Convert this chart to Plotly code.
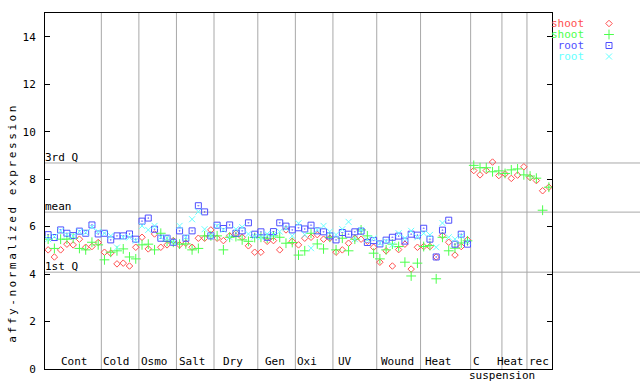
import plotly.graph_objects as go

# ---- data -------------------------------------------------------------
group_names = ["Cont", "Cold", "Osmo", "Salt", "Dry", "Gen", "Oxi", "UV",
               "Wound", "Heat", "C", "Heat", "rec"]
group_sizes = [9, 6, 6, 6, 7, 6, 6, 7, 7, 8, 5, 4, 4]
label_pos = [4.17, 11.0, 17.03, 23.14, 29.61, 36.2, 41.36, 47.48,
             55.74, 62.4, 68.47, 73.8, 78.5]

shoot_rep1 = [5.02, 4.72, 5.02, 5.26, 5.23, 5.47, 5.13, 5.16, 5.33,
              4.92, 4.88, 4.43, 4.46, 4.34, 5.13,
              5.55, 5.06, 5.69, 5.13, 5.23, 5.41,
              5.23, 5.30, 5.13, 5.51, 5.51, 5.86,
              5.51, 5.41, 5.61, 5.72, 5.55, 5.19, 4.92,
              4.92, 5.38, 5.41, 5.02, 5.86, 5.38,
              5.23, 5.51, 5.55, 5.66, 5.47, 5.51,
              4.92, 5.02, 5.30, 5.51, 5.47, 5.38, 5.13,
              4.50, 4.98, 4.34, 5.03, 5.26, 4.21, 5.13,
              5.16, 5.16, 4.72, 5.62, 5.34, 4.80, 5.16, 5.44,
              8.36, 8.18, 8.36, 8.72, 8.15,
              8.22, 8.03, 8.17, 8.52,
              8.07, 7.94, 7.51, 7.66]

shoot_rep2 = [5.47, 5.08, 5.47, 5.47, 5.51, 5.08, 5.02, 5.34, 5.23,
              4.60, 4.92, 4.98, 5.06, 4.72, 4.64,
              5.23, 5.26, 5.02, 5.72, 5.38, 5.34,
              5.26, 5.27, 5.02, 5.08, 5.61, 5.61,
              5.61, 5.02, 5.55, 5.58, 5.44, 5.38, 5.54,
              5.55, 5.51, 5.61, 5.55, 5.30, 5.33,
              4.80, 4.98, 5.72, 5.27, 5.06, 5.55,
              5.02, 5.51, 4.98, 5.47, 5.86, 5.61, 4.88,
              4.64, 5.02, 5.26, 5.16, 4.50, 3.92, 4.46,
              5.16, 5.20, 3.80, 5.55, 4.98, 5.09, 5.31, 5.40,
              8.58, 8.48, 8.48, 8.31, 8.35,
              8.24, 8.39, 8.43, 8.18,
              8.13, 8.04, 6.69, 7.66]

root_rep1 = [5.66, 5.54, 5.86, 5.72, 5.62, 5.81, 5.72, 6.07, 5.69,
             5.72, 5.44, 5.61, 5.61, 5.69, 5.47,
             6.23, 6.36, 5.89, 5.51, 5.51, 5.34,
             5.82, 5.51, 5.82, 6.88, 6.62, 5.61,
             6.06, 5.92, 6.07, 5.72, 5.82, 6.16, 5.68,
             5.78, 5.55, 5.79, 6.16, 6.02, 5.86,
             5.95, 5.90, 6.06, 5.82, 5.78, 5.61,
             5.44, 5.75, 5.68, 5.78, 5.81, 5.33, 5.41,
             5.27, 5.43, 5.55, 5.60, 5.39, 5.68, 5.64,
             5.93, 5.47, 4.72, 5.85, 6.27, 5.26, 5.68, 5.26,
             None, None, None, None, None,
             None, None, None, None,
             None, None, None, None]

root_rep2 = [5.47, 5.58, 5.82, 5.66, 5.61, 5.79, 5.75, 5.98, 5.79,
             5.72, 5.61, 5.12, 5.55, 5.55, 5.41,
             6.03, 5.86, 6.03, 5.55, 5.51, 5.34,
             6.03, 5.55, 6.31, 6.63, 5.89, 5.61,
             6.03, 5.86, 5.55, 5.89, 5.98, 5.69, 5.58,
             5.55, 5.69, 5.66, 5.79, 5.93, 5.61,
             6.14, 5.66, 5.09, 5.86, 6.03, 5.79,
             5.66, 5.89, 6.20, 5.47, 5.86, 5.44, 5.51,
             5.30, 5.38, 5.23, 5.72, 5.51, 5.82, 5.55,
             5.72, 5.65, 5.13, 6.15, 5.55, 5.47, 5.61, 5.38,
             None, None, None, None, None,
             None, None, None, None,
             None, None, None, None]

ref_lines = [("3rd Q", 8.68), ("mean", 6.61), ("1st Q", 4.08)]
y_ticks = [0, 2, 4, 6, 8, 10, 12, 14]

# ---- styling ----------------------------------------------------------
FONT = "DejaVu Sans Mono"
RED, GREEN, BLUE, CYAN = "#ff4f4f", "#4cff4c", "#4f4fff", "#66ffff"
GRID = "#a8a8a8"

series = [
    ("shoot", shoot_rep1, RED, "diamond-open", 5),
    ("shoot", shoot_rep2, GREEN, "cross-thin-open", 7),
    ("root", root_rep1, BLUE, "square-open-dot", 6),
    ("root", root_rep2, CYAN, "x-thin-open", 6),
]

n = len(shoot_rep1)
xs = list(range(n))

fig = go.Figure()

# group separators
shapes = []
edge = -0.5
for size in group_sizes[:-1]:
    edge += size
    shapes.append(dict(type="line", xref="x", yref="paper", x0=edge, x1=edge,
                       y0=0, y1=1, line=dict(color=GRID, width=1), layer="below"))
for name, val in ref_lines:
    shapes.append(dict(type="line", xref="paper", yref="y", x0=0, x1=1,
                       y0=val, y1=val, line=dict(color=GRID, width=1), layer="below"))

for name, vals, col, sym, sz in series:
    fig.add_trace(go.Scatter(
        x=xs, y=vals, mode="markers", name=name, showlegend=False,
        marker=dict(symbol=sym, size=sz, color=col, line=dict(color=col, width=1)),
        xaxis="x", yaxis="y"))

# legend in right margin (own axes)
leg_rows = [23.5, 34.5, 45.5, 56.5]
for (name, vals, col, sym, sz), ry in zip(series, leg_rows):
    fig.add_trace(go.Scatter(
        x=[609], y=[ry], mode="markers", showlegend=False, hoverinfo="skip",
        marker=dict(symbol=sym, size=sz, color=col, line=dict(color=col, width=1)),
        xaxis="x2", yaxis="y2"))

annotations = []
# legend labels as one multi-line block (line pitch ~11 px, glyphs 11 px)
legend_text = "<br>".join(
    '<span style="font-size:11px;color:%s">%s</span>' % (col, name)
    for name, vals, col, sym, sz in series)
annotations.append(dict(text=legend_text, x=585.5, y=sum(leg_rows) / 4,
                        xref="x2", yref="y2", xanchor="right", yanchor="middle",
                        align="right", showarrow=False,
                        font=dict(family=FONT, size=8.5, color="black")))

for name, val in ref_lines:
    annotations.append(dict(text=name, x=-0.5, y=val, xref="x", yref="y",
                            xanchor="left", yanchor="bottom", showarrow=False,
                            xshift=-2, yshift=-3,
                            font=dict(family=FONT, size=11, color="black")))

for name, pos in zip(group_names, label_pos):
    annotations.append(dict(text=name, x=pos, y=0, xref="x", yref="y",
                            xanchor="center", yanchor="bottom", showarrow=False,
                            yshift=-1,
                            font=dict(family=FONT, size=11, color="black")))
annotations.append(dict(text="suspension", x=72.5, y=0, xref="x", yref="y",
                        xanchor="center", yanchor="top", showarrow=False,
                        yshift=2,
                        font=dict(family=FONT, size=11, color="black")))

annotations.append(dict(text='<span style="letter-spacing:2.6px">affy-normalized expression</span>',
                        x=-0.056, y=0.41, xref="paper", yref="paper",
                        xanchor="center", yanchor="middle", textangle=-90,
                        showarrow=False,
                        font=dict(family=FONT, size=11, color="black")))

fig.update_layout(
    width=640, height=384,
    margin=dict(l=45, r=0, t=13, b=15, pad=0),
    paper_bgcolor="white", plot_bgcolor="white",
    showlegend=False,
    shapes=shapes, annotations=annotations,
    xaxis=dict(domain=[0, 507 / 595], range=[-0.5, n - 0.5],
               showgrid=False, zeroline=False, showticklabels=False,
               ticks="", showline=True, linecolor="black", linewidth=1,
               mirror=True, fixedrange=True),
    yaxis=dict(range=[0, 15], tickvals=y_ticks, ticktext=[str(t) for t in y_ticks],
               ticks="inside", ticklen=5, tickcolor="black", tickwidth=1,
               showgrid=False, zeroline=False, showline=True, linecolor="black",
               linewidth=1, mirror="ticks", ticklabelstandoff=6,
               tickfont=dict(family=FONT, size=11, color="black"), fixedrange=True),
    xaxis2=dict(domain=[507 / 595, 1], range=[552, 640], visible=False,
                fixedrange=True),
    yaxis2=dict(domain=[0, 1], range=[369, 13], visible=False, anchor="x2",
                fixedrange=True),
)

fig.write_html("out.html",
               config={"displayModeBar": False, "staticPlot": True},
               post_script="document.body.style.margin='0';document.body.style.overflow='hidden';")
